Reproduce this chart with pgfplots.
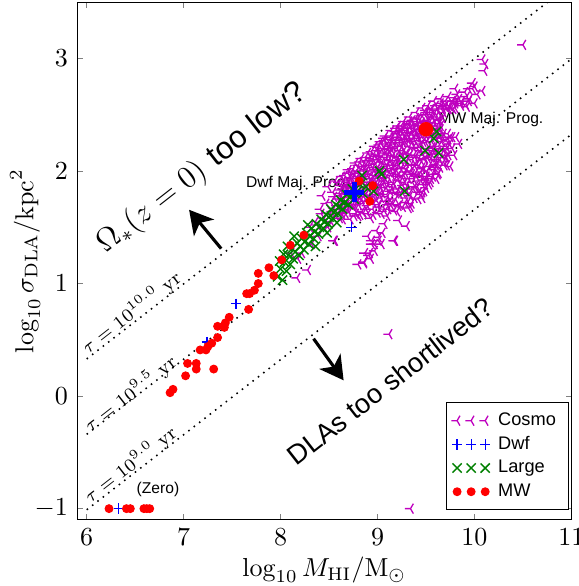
\documentclass[border=0pt]{standalone}
\usepackage{fontspec}
\setsansfont{Liberation Sans}
\usepackage{pgfplots}
\pgfplotsset{compat=1.18}
\usetikzlibrary{arrows.meta}
\definecolor{mplm}{rgb}{0.75,0,0.75}
\definecolor{mplg}{rgb}{0,0.5,0}
\definecolor{mplb}{rgb}{0,0,1}
\definecolor{mplr}{rgb}{1,0,0}
\pgfdeclareplotmark{trileft}{%
  \pgfpathmoveto{\pgfqpoint{-\pgfplotmarksize}{0pt}}%
  \pgfpathlineto{\pgfpointorigin}%
  \pgfpathlineto{\pgfqpoint{0.5\pgfplotmarksize}{0.866\pgfplotmarksize}}%
  \pgfpathmoveto{\pgfpointorigin}%
  \pgfpathlineto{\pgfqpoint{0.5\pgfplotmarksize}{-0.866\pgfplotmarksize}}%
  \pgfusepathqstroke}

\pgfplotstableread{
x y
10.50 3.12
10.08 2.99
10.10 2.89
10.11 2.95
9.98 2.78
9.94 2.73
9.80 2.73
10.00 2.75
9.92 2.66
9.87 2.62
9.77 2.62
9.66 2.58
9.56 2.55
9.49 2.50
9.32 2.41
9.25 2.35
9.80 2.65
9.91 2.59
9.94 2.62
10.08 2.71
8.94 1.38
8.86 1.18
8.87 1.27
8.92 1.27
9.01 1.38
8.97 1.35
9.17 1.38
9.30 1.51
8.80 1.60
8.63 1.62
9.46 1.81
9.22 1.56
9.07 1.53
8.55 1.38
9.32 1.67
9.56 1.97
9.46 1.76
9.05 1.45
8.99 1.47
8.90 1.42
8.93 1.22
8.86 1.19
8.91 1.25
8.97 1.29
8.94 1.35
9.04 1.35
9.01 1.41
9.18 1.38
9.35 1.71
9.49 1.88
9.59 2.03
9.70 2.12
9.74 2.24
8.22 1.27
8.32 1.35
8.39 1.42
8.76 1.67
8.49 1.50
8.11 1.27
8.18 1.22
8.80 1.17
8.56 1.38
8.17 1.05
8.28 1.12
8.30 1.50
8.42 1.62
8.52 1.72
8.60 1.80
8.68 1.86
8.46 1.48
8.36 1.55
9.12 0.55
9.34 -1.00
8.38 1.52
8.41 1.66
8.43 1.78
8.45 1.58
8.47 1.71
8.49 1.86
8.52 1.55
8.53 1.64
8.55 1.77
8.56 1.91
8.58 1.69
8.61 1.58
8.62 1.83
8.63 1.95
8.65 1.74
8.67 1.62
8.68 1.88
8.70 2.01
8.71 1.79
8.72 1.57
8.74 1.93
8.75 1.68
8.77 2.07
8.78 1.84
8.79 1.73
8.81 1.99
8.82 1.61
8.83 2.11
8.85 1.90
8.86 1.77
8.87 2.04
8.88 1.66
8.90 2.16
8.91 1.95
8.92 1.83
8.93 1.58
8.94 2.09
8.96 1.71
8.97 2.22
8.98 1.89
8.99 2.01
9.00 1.63
9.01 2.14
9.02 1.79
9.03 2.26
9.05 1.94
9.06 1.68
9.07 2.08
9.08 2.31
9.09 1.85
9.10 1.60
9.11 2.19
9.12 1.99
9.13 1.74
9.14 2.36
9.15 2.05
9.16 1.90
9.17 1.65
9.18 2.27
9.19 2.13
9.20 1.81
9.21 2.40
9.22 1.97
9.23 1.70
9.24 2.22
9.25 2.08
9.26 1.87
9.27 2.44
9.28 2.32
9.29 1.76
9.30 2.02
9.31 2.16
9.32 1.93
9.33 2.48
9.34 1.68
9.35 2.27
9.36 2.10
9.37 1.84
9.38 2.38
9.39 1.98
9.40 2.52
9.41 2.20
9.42 1.75
9.43 2.05
9.44 2.33
9.45 1.91
9.46 2.56
9.47 2.14
9.48 1.82
9.49 2.42
9.50 2.25
9.51 2.00
9.52 2.58
9.53 1.88
9.54 2.35
9.55 2.12
9.56 2.48
9.57 1.95
9.58 2.62
9.59 2.22
9.60 2.05
9.61 2.40
9.62 2.55
9.63 1.98
9.64 2.30
9.65 2.64
9.66 2.15
9.67 2.47
9.68 2.08
9.70 2.58
9.72 2.20
9.73 2.66
9.75 2.04
9.77 2.30
9.78 2.62
9.79 2.14
9.80 2.56
9.82 2.68
9.84 2.24
9.86 2.60
9.90 2.70
9.92 2.57
9.95 2.64
9.98 2.73
10.00 2.60
10.03 2.68
8.84 1.95
8.89 1.86
8.95 2.03
8.97 1.92
9.02 2.10
9.04 1.99
9.06 2.20
9.08 1.93
9.11 2.06
9.13 2.16
9.15 1.96
9.17 2.24
9.19 2.01
9.21 2.12
9.23 2.30
9.25 1.95
9.27 2.18
9.29 2.07
9.31 2.36
9.33 2.22
9.35 2.00
9.37 2.29
9.39 2.12
9.41 2.40
9.43 2.27
9.45 2.09
9.47 2.36
9.50 2.17
9.52 2.45
9.55 2.30
9.57 2.18
9.60 2.48
9.63 2.38
9.66 2.26
9.72 2.55
9.81 2.30
8.99 2.18
9.04 2.24
9.09 2.12
9.14 2.28
9.18 2.35
9.22 2.05
9.26 2.38
9.28 1.90
9.32 2.42
9.36 2.33
9.40 1.95
9.44 2.46
9.48 2.02
9.53 2.52
9.58 2.10
9.62 2.33
9.67 2.56
9.71 2.12
9.76 2.56
9.81 2.62
8.51 1.62
8.54 1.81
8.57 1.60
8.59 1.75
8.60 1.90
8.64 1.57
8.66 1.80
8.66 1.96
8.69 1.66
8.69 1.92
8.72 1.72
8.73 1.99
8.74 1.82
8.76 1.60
8.76 1.97
8.78 1.67
8.80 1.89
8.80 2.05
8.82 1.76
8.83 1.94
8.84 1.64
8.86 2.08
8.87 1.86
8.88 1.73
8.89 2.01
8.90 1.62
8.91 1.90
8.92 2.12
8.93 1.78
8.94 1.97
8.95 1.66
8.96 2.15
8.97 1.84
8.98 2.06
8.99 1.74
9.00 1.95
9.00 2.21
9.01 1.70
9.02 1.87
9.03 2.03
9.04 1.62
9.05 2.18
9.05 1.80
9.06 1.97
9.07 2.27
9.08 1.73
9.09 2.02
9.10 1.89
9.10 2.24
9.11 1.66
9.12 2.10
9.13 1.82
9.14 2.00
9.15 2.31
9.16 1.71
9.16 2.14
9.17 1.88
9.18 2.05
9.19 2.38
9.20 1.64
9.20 2.20
9.21 1.92
9.22 2.33
9.23 1.79
9.24 2.02
9.25 2.27
9.26 1.68
9.26 2.13
9.27 1.96
9.28 2.40
9.29 1.84
9.30 2.24
9.30 2.09
9.31 1.72
9.32 2.31
9.33 1.99
9.33 1.80
9.34 2.15
9.35 2.44
9.36 1.90
9.37 2.21
9.38 1.76
9.38 2.05
9.39 2.35
9.40 2.14
9.41 1.86
9.42 2.47
9.42 2.29
9.43 1.97
9.44 2.18
9.45 1.79
9.45 2.40
9.46 2.03
9.47 2.26
9.48 1.92
9.49 2.50
9.49 2.11
9.50 1.85
9.51 2.34
9.52 2.20
9.53 2.04
9.54 2.44
9.55 1.93
9.56 2.26
9.57 2.38
9.58 2.01
9.59 2.52
9.60 2.15
9.61 2.28
9.62 1.97
9.63 2.46
9.64 2.10
9.65 2.37
9.66 2.55
9.67 2.20
9.68 2.33
9.69 2.05
9.71 2.27
9.73 2.14
9.74 2.58
9.75 2.30
9.77 2.20
9.78 2.55
9.80 2.60
9.84 2.64
9.86 2.58
8.62 1.70
8.71 1.86
8.79 1.95
8.85 1.83
8.93 2.05
9.01 2.00
9.08 2.16
9.13 2.25
9.19 2.09
9.24 2.36
9.29 2.15
9.34 2.38
9.39 2.26
9.44 2.37
9.51 2.42
9.57 2.47
9.63 2.22
9.68 2.52
9.73 2.28
8.98 1.96
9.06 1.91
9.14 1.86
9.21 1.84
9.27 2.28
9.36 2.45
9.46 2.49
9.55 2.55
9.65 2.60
9.70 2.62
9.60 2.58
9.50 2.52
9.40 2.44
9.30 2.38
9.20 2.30
9.10 2.20
9.00 2.10
8.90 2.05
8.80 1.98
8.70 1.90
8.605 1.66
8.615 1.87
8.625 1.78
8.635 1.61
8.645 1.91
8.655 1.68
8.675 1.84
8.685 1.73
8.695 1.98
8.705 1.63
8.715 1.94
8.725 1.85
8.735 1.69
8.745 2.02
8.755 1.76
8.765 1.89
8.775 1.62
8.785 2.00
8.795 1.81
8.805 1.70
8.815 2.08
8.825 1.87
8.835 1.75
8.845 2.04
8.855 1.63
8.865 1.96
8.875 2.12
8.885 1.80
8.895 1.69
8.905 2.09
8.915 1.88
8.925 1.74
8.935 2.17
8.945 1.93
8.955 1.61
8.965 2.00
8.975 1.79
8.985 2.13
8.995 1.87
9.005 1.68
9.015 2.23
9.025 1.95
9.035 1.76
9.045 2.08
9.055 1.88
9.065 2.29
9.075 1.64
9.085 2.04
9.095 1.79
9.105 2.15
9.115 1.94
9.125 2.30
9.135 1.70
9.145 2.09
9.155 1.83
9.165 2.21
9.175 1.98
9.185 1.75
9.195 2.33
9.205 2.07
9.215 1.69
9.225 2.18
9.235 1.91
9.245 2.40
9.255 1.81
9.265 2.25
9.275 2.03
9.285 1.72
9.295 2.34
9.305 1.88
9.315 2.12
9.325 2.44
9.335 1.78
9.345 2.26
9.355 1.97
9.365 2.38
9.375 2.14
9.385 1.86
9.395 2.47
9.405 2.06
9.415 2.31
9.425 1.81
9.435 2.21
9.445 1.99
9.455 2.43
9.465 1.88
9.475 2.30
9.485 2.10
9.495 2.54
9.505 1.95
9.515 2.27
9.525 2.38
9.535 2.13
9.545 1.90
9.555 2.50
9.565 2.21
9.575 2.04
9.585 2.43
9.595 2.31
9.605 1.93
9.615 2.54
9.625 2.18
9.635 2.42
9.645 2.03
9.655 2.29
9.675 2.12
9.695 2.57
9.705 2.22
9.715 2.05
9.725 2.33
9.735 2.55
8.64 1.84
8.68 1.70
8.73 1.91
8.77 1.78
8.81 1.93
8.85 1.71
8.89 1.97
8.93 1.90
8.96 1.77
9.00 2.03
9.03 1.85
9.07 1.99
9.10 1.77
9.12 2.22
9.16 2.02
9.19 1.80
9.22 2.25
9.25 2.15
9.28 1.99
9.31 2.28
9.34 2.05
9.37 1.93
9.40 2.32
9.43 2.12
9.46 1.96
9.49 2.33
9.52 2.11
9.55 2.40
9.58 2.20
9.61 2.06
9.64 2.45
9.67 2.30
9.70 2.18
9.05 2.13
9.15 2.18
9.25 2.22
9.35 2.34
9.45 2.24
9.55 2.16
9.65 2.40
8.95 2.11
8.85 2.00
8.75 1.85
9.20 1.95
9.30 1.82
9.40 1.85
9.50 1.92
9.60 2.10
9.10 1.70
9.00 1.83
8.90 1.77
8.80 1.74
}\cosmo

\pgfplotstableread{
x y
6.33 -1.00
7.24 0.48
7.54 0.82
8.73 1.50
}\dwf

\pgfplotstableread{
x y
7.97 1.06
8.00 1.13
8.02 1.03
8.04 1.19
8.06 1.11
8.08 1.25
8.10 1.17
8.12 1.31
8.13 1.22
8.15 1.28
8.17 1.36
8.19 1.25
8.20 1.33
8.22 1.40
8.24 1.30
8.25 1.37
8.27 1.45
8.29 1.35
8.30 1.42
8.32 1.49
8.34 1.40
8.35 1.46
8.37 1.53
8.39 1.44
8.40 1.50
8.42 1.57
8.44 1.49
8.45 1.55
8.47 1.61
8.49 1.53
8.50 1.59
8.52 1.66
8.54 1.58
8.55 1.63
8.57 1.70
8.59 1.62
8.60 1.68
8.62 1.74
8.64 1.66
8.66 1.72
8.68 1.79
8.70 1.70
8.72 1.77
8.74 1.84
8.76 1.75
8.79 1.82
8.82 1.88
8.85 1.80
8.88 1.86
8.07 1.33
8.14 1.42
8.28 1.52
8.03 1.26
7.99 1.20
8.36 1.33
8.48 1.45
8.58 1.54
8.84 1.96
8.96 1.82
9.02 2.00
9.04 1.97
9.27 2.10
9.28 1.82
9.49 2.18
9.63 2.16
9.58 2.29
9.61 2.35
}\large

\pgfplotstableread{
x y
6.23 -1.00
6.41 -1.00
6.45 -1.00
6.59 -1.00
6.62 -1.00
6.65 -1.00
6.86 0.03
6.89 0.06
7.02 0.18
7.04 0.29
7.13 0.29
7.13 0.24
7.31 0.24
7.17 0.41
7.23 0.41
7.25 0.44
7.29 0.47
7.35 0.52
7.35 0.62
7.42 0.61
7.43 0.65
7.47 0.70
7.65 0.91
7.68 0.91
7.73 0.94
7.67 0.77
7.77 1.00
7.77 1.09
7.88 1.14
7.93 1.07
8.01 1.21
8.10 1.34
8.24 1.43
8.81 1.91
8.95 1.87
8.92 1.73
}\mw

\begin{document}
\begin{tikzpicture}
\begin{axis}[
  name=ax,
  width=190pt, height=199pt, scale only axis,
  xmin=5.9, xmax=11, ymin=-1.1, ymax=3.5,
  xtick={6,7,8,9,10,11}, ytick={-1,0,1,2,3},
  tick align=inside, major tick length=2.2pt,
  xlabel={$\log_{10} M_\mathrm{HI}/\mathrm{M}_\odot$},
  ylabel={$\log_{10}\sigma_\mathrm{DLA}/\mathrm{kpc}^2$},
  xlabel style={at={(axis description cs:0.5,-0.0965)}, anchor=center},
  ylabel style={at={(axis description cs:-0.105,0.5)}, anchor=center},
  legend style={at={(0.996,0.019)}, anchor=south east, draw=black,
    font=\sffamily\fontsize{7}{8}\selectfont, row sep=0.4pt, inner xsep=2pt, inner ysep=2.5pt,
    nodes={inner xsep=3pt, inner ysep=1pt, text height=5.2pt, text depth=1.5pt},
    cells={anchor=west}},
  legend image code/.code={\draw[mark repeat=1,mark phase=1,#1] plot coordinates {(0pt,0pt) (5.4pt,0pt) (10.8pt,0pt)};},
]
\addplot[only marks, mark=trileft, mark size=2.2pt, draw=mplm, line width=0.5pt] table {\cosmo};
\addlegendentry{Cosmo}
\addplot[only marks, mark=+, mark size=2pt, draw=mplb, line width=0.5pt] table {\dwf};
\addlegendentry{Dwf}
\addplot[only marks, mark=x, mark size=2.5pt, draw=mplg, line width=0.55pt] table {\large};
\addlegendentry{Large}
\addplot[only marks, mark=*, mark size=1.5pt, draw=mplr, fill=mplr] table {\mw};
\addlegendentry{MW}
\addplot[only marks, mark=*, mark size=2.6pt, draw=mplr, fill=mplr, forget plot] coordinates {(9.50,2.37)};
\addplot[only marks, mark=+, mark size=3.8pt, draw=mplb, line width=1.8pt, forget plot] coordinates {(8.76,1.81)};
\addplot[dotted, black, line width=0.6pt, forget plot] coordinates {(6,0.33) (10.755,3.5)};
\addplot[dotted, black, line width=0.6pt, forget plot] coordinates {(6,-0.34) (11,2.995)};
\addplot[dotted, black, line width=0.6pt, forget plot] coordinates {(6,-1.01) (11,2.325)};
\node[rotate=38, font=\fontsize{7.5}{9}\selectfont] at (axis cs:6.46,0.74) {$\tau = 10^{10.0}\ \mathrm{yr}$};
\node[rotate=38, font=\fontsize{7.5}{9}\selectfont] at (axis cs:6.45,0.02) {$\tau = 10^{9.5}\ \mathrm{yr}$};
\node[rotate=38, font=\fontsize{7.5}{9}\selectfont] at (axis cs:6.45,-0.61) {$\tau = 10^{9.0}\ \mathrm{yr}$};
\node[rotate=38, font=\fontsize{12}{14}\selectfont] at (axis cs:7.19,2.02) {$\Omega_*(z=0)$ \textsf{too low?}};
\node[rotate=38, font=\sffamily\fontsize{10.5}{12}\selectfont] at (axis cs:9.13,0.13) {DLAs too shortlived?};
\draw[line width=1.2pt, -{Stealth[length=9pt,width=10pt,inset=2.5pt]}] (axis cs:7.387,1.31) -- (axis cs:7.056,1.655);
\draw[line width=1.2pt, -{Stealth[length=9pt,width=10pt,inset=2.5pt]}] (axis cs:8.34,0.51) -- (axis cs:8.65,0.14);
\node[font=\sffamily\fontsize{6}{7}\selectfont] at (axis cs:8.18,1.885) {Dwf Maj. Prog.};
\node[font=\sffamily\fontsize{6}{7}\selectfont] at (axis cs:10.17,2.46) {MW Maj. Prog.};
\node[font=\sffamily\fontsize{6}{7}\selectfont] at (axis cs:6.735,-0.83) {(Zero)};
\end{axis}
\pgfresetboundingbox
\path[use as bounding box] ([shift={(-29.6pt,-25.4pt)}]ax.south west) rectangle ([shift={(2.7pt,0.8pt)}]ax.north east);
\end{tikzpicture}
\end{document}
